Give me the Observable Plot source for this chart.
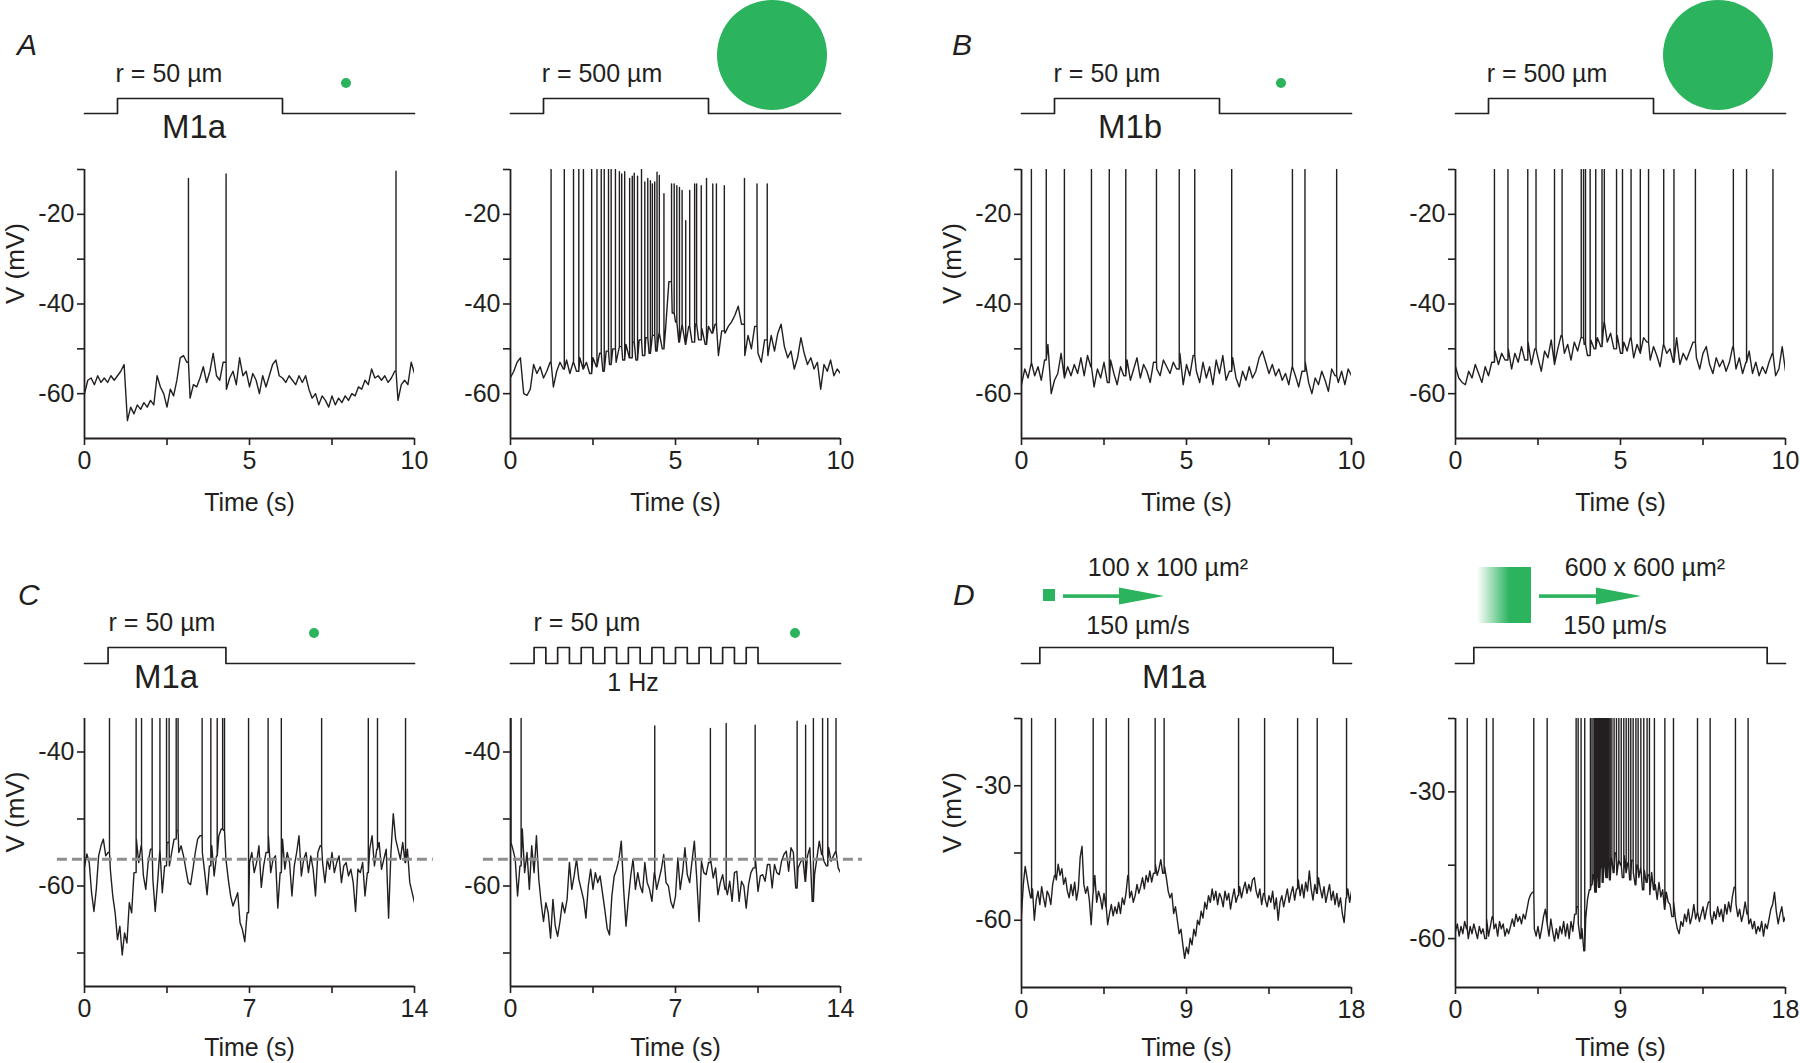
<!DOCTYPE html>
<html>
<head>
<meta charset="utf-8">
<script src="https://cdn.jsdelivr.net/npm/d3@7"></script>
<script src="https://cdn.jsdelivr.net/npm/@observablehq/plot@0.6"></script>
<style>
  html, body { margin: 0; padding: 0; background: #fff; }
  #fig { position: relative; width: 1800px; height: 1063px; overflow: hidden; background: #fff;
         font-family: "Liberation Sans", Arial, Helvetica, sans-serif; color: #231f20; }
  #fig > div { position: absolute; }
  #fig svg { display: block; }
</style>
</head>
<body>
<div id="fig"></div>
<script>
const DT = 0.1;

// Panel A, left: r = 50 µm, M1a
const A1_v = [
 -60,-57,-56.5,-58,-56,-57.5,-56.5,-57.5,-56,-57,
 -56,-55,-53.5,-66,-63,-64.5,-62.5,-63.5,-62,-63,
 -61.5,-62.5,-56,-58.5,-60,-63,-59,-60.5,-57,-52,
 -51.5,-53,-61,-58,-58.5,-56.5,-54,-57.5,-55,-51,
 -56,-57,-53,-59,-56.5,-55,-58,-52,-56,-55,
 -58.5,-55.5,-57,-60,-56,-58.5,-56,-53.5,-52.5,-56,
 -56.5,-57.5,-56,-57,-58,-56,-57.5,-56,-59,-61,
 -60,-62.5,-60.5,-61.5,-63,-60.5,-62.5,-61,-62,-60.5,
 -61.5,-60,-60.5,-58.5,-59,-57,-58,-54.5,-56.5,-56,
 -57,-56,-57.5,-56.5,-55,-61.5,-58,-57,-58,-53,
 -55.5];
const A1_spk = [3.15, 4.29, 9.44];
const A1_pk = [-12, -11, -10.4];

// Panel A, right: r = 500 µm
const A2_v = [
 -56.4,-55,-53,-52,-60,-60.4,-59,-53.5,-55.5,-54,
 -56.5,-55,-53,-58.5,-55,-53,-54.5,-52.5,-55.5,-53,
 -55,-52,-54.5,-53,-55.5,-52,-54,-51,-55,-50.5,
 -53.5,-50,-53,-49.5,-52.5,-49,-52,-48.5,-52.5,-48,
 -51.5,-47.5,-51,-47,-50.5,-46.5,-50,-45.5,-35,-42,
 -44,-48.5,-44.5,-49,-45,-48.5,-44.5,-48,-45.5,-49,
 -45,-46.5,-44.5,-51.5,-46,-46.5,-45,-44,-42.5,-40.5,
 -44.5,-51.5,-47,-50,-45,-51,-53,-48,-51.5,-47,
 -50.5,-46.5,-44.5,-49.5,-52,-50.5,-54.5,-52,-47.5,-51,
 -53.5,-52,-54.5,-53,-59,-53.5,-55,-52.5,-56,-54.5,
 -55.5];
const A2_spk = [1.23,1.63,1.91,2.07,2.21,2.46,2.62,2.75,2.84,2.97,3.05,3.18,3.30,3.37,3.46,3.61,3.69,3.75,3.85,3.97,
 4.07,4.16,4.24,4.30,4.37,4.44,4.51,4.65,4.88,4.96,5.04,5.12,5.20,5.31,5.43,5.58,5.64,5.78,5.94,6.13,6.24,6.48,7.09,7.47,7.78];
const A2_pk = [-10,-10,-10,-10,-10,-10,-10,-10,-10,-10,-10,-10,-10.5,-11,-10.5,-12,-11.5,-10.8,-11.5,-10,
 -12.8,-12,-12.5,-13.2,-12.8,-10.6,-11.3,-15.4,-13.2,-13.2,-13.6,-14,-14.7,-21.4,-14.7,-13.2,-13.2,-13.6,-12,-13.2,-13.2,-13.6,-12,-13.2,-13.2];

// Panel B, left: r = 50 µm, M1b
const B1_v = [
 -58,-54.5,-56.5,-53,-56,-54,-57,-52.5,-49,-60,
 -57,-55.5,-51,-56.5,-54,-56,-53.5,-55.5,-52,-56,
 -51.5,-54,-58.5,-54.5,-56.5,-53,-57.5,-52.5,-55.5,-58,
 -54,-56,-52.5,-57,-54.5,-52,-56.5,-53.5,-55,-57.5,
 -53,-54.5,-56,-52.5,-54,-55.5,-53,-54.5,-51,-58,
 -53.5,-56,-51.5,-55,-57.5,-53,-56.5,-54,-58,-52.5,
 -55.5,-51.5,-57,-55,-52,-56.5,-58.5,-55,-57,-54,
 -56.5,-55,-52,-50.5,-53,-55.5,-53.5,-56,-54.5,-57,
 -55.5,-58,-54,-56,-58.5,-55,-53,-57.5,-60,-56.5,
 -58,-55,-57,-59.5,-54.5,-56,-57.5,-55,-58,-54.5,
 -56];
const B1_spk = [0.30, 0.75, 1.30, 2.12, 2.66, 3.16, 4.09, 4.78, 5.25, 6.37, 8.21, 8.59, 9.55];

// Panel B, right: r = 500 µm
const B2_v = [
 -54,-56.5,-57.5,-58,-55,-56.5,-53.5,-55.5,-57.5,-54,
 -56,-53,-50.5,-53.5,-51,-52.5,-50,-54.5,-51,-53,
 -49.5,-52.5,-48.5,-53.5,-50,-52,-55,-50.5,-52,-48,
 -53.5,-50,-47,-51,-49,-52.5,-48.5,-50.5,-47.5,-49,
 -51.5,-48,-50,-47.5,-49.5,-44,-48.5,-46.5,-50,-47,
 -51,-48.5,-50.5,-47.5,-52,-49,-51,-47.5,-48.5,-52.5,
 -49.5,-51.5,-54,-49,-51,-50,-53,-47.5,-53.5,-51,
 -52.5,-50.5,-48.5,-52,-54.5,-51,-49.5,-53.5,-55.5,-52,
 -54,-52.5,-55,-53,-49.5,-54.5,-52,-55.5,-53,-50.5,
 -55.5,-53,-56,-54,-55.5,-53,-51,-56,-54.5,-49.5,
 -55];
const B2_spk = [1.18,1.59,2.19,2.44,3.0,3.23,3.81,3.88,3.94,4.08,4.25,4.44,4.51,4.88,5.06,5.32,5.60,5.85,6.31,6.62,7.27,8.42,8.82,9.62];

// Panel C, left: r = 50 µm, M1a (14 s)
const C1_v = [
 -57.2,-55.2,-56.5,-61,-63.8,-60.5,-55.5,-54,-53,-55.5,
 -55,-57.7,-61.5,-64,-68,-66,-70.3,-67,-68.5,-62.5,
 -64,-58,-53,-56.5,-54,-58.5,-60.5,-56.5,-54.5,-59,
 -63.8,-59.5,-54.5,-61,-57,-53.5,-57,-55,-53,-51.7,
 -55,-54,-55.5,-57.5,-59.5,-59.8,-57.5,-55,-53,-52.5,
 -55,-58,-61.3,-57,-54,-58.5,-55.5,-52.5,-51.5,-51.7,
 -56,-59,-61.5,-63,-62,-61,-65.5,-66.5,-68.3,-64,
 -56.5,-55,-58,-56.5,-54,-60.2,-57,-55,-52.5,-58,
 -56,-55.5,-63.3,-58,-53,-57.5,-55,-56.5,-61.5,-57,
 -55,-52.5,-58.5,-56,-55,-58,-55.5,-57.5,-61.5,-55,
 -54,-56.5,-59.5,-56,-57.5,-55,-58,-56.5,-55.5,-59.5,
 -57,-56.5,-58.5,-57.5,-59.5,-63.8,-57.5,-58,-56.5,-61.5,
 -58,-54.5,-52.5,-57,-54.5,-53.5,-57.5,-56,-54.5,-64.8,
 -55,-49.2,-53,-54.5,-56,-53.5,-56.5,-54.5,-59.5,-61,
 -62.5];
const C1_spk = [1.06,2.19,2.42,2.87,3.20,3.48,3.59,3.89,3.97,4.99,5.36,5.63,5.86,5.94,6.96,7.79,8.35,10.06,12.04,12.43,13.62];

// Panel C, right: r = 50 µm at 1 Hz (14 s)
const C2_v = [
 -53.5,-54.5,-56,-61.5,-57,-51.5,-58,-55,-60.5,-54,
 -58,-52.5,-59,-62.5,-65.3,-62.5,-64,-67.8,-62,-66,
 -67.5,-65.3,-62.5,-64,-62,-56.5,-60.5,-58.5,-56,-59,
 -60.5,-62,-64.8,-60,-57.5,-60.5,-58,-59.5,-58.5,-61,
 -63.5,-66.3,-67.3,-61.5,-58.5,-57.5,-56,-53.3,-60.5,-66,
 -62,-58.5,-56,-60.5,-58,-60,-61,-56.5,-59.5,-60.5,
 -62.3,-58,-60.5,-59,-57.5,-55.3,-59.5,-60,-62.3,-63.3,
 -61.5,-55.8,-60.5,-58,-54.3,-58.3,-59.5,-56.3,-53.3,-58.8,
 -65.3,-56.3,-58,-58.3,-56.5,-56.3,-58.8,-57.3,-61.3,-59.5,
 -58.3,-60.5,-61.3,-59.3,-62.3,-58,-57.8,-62.3,-59.3,-60,
 -63.3,-59.8,-58,-57.3,-56.3,-60.8,-58.5,-58.3,-59.3,-56.8,
 -56.8,-60.3,-56.8,-58,-58.3,-56.3,-55.3,-54.8,-57.8,-54.3,
 -55,-60.3,-57.3,-56.5,-55.8,-59.3,-55.5,-54.3,-62.3,-58.3,
 -55.8,-53.3,-55.3,-56.3,-57,-54.3,-56.3,-55.5,-54.8,-57.3,
 -58];
const C2_spk = [0.02,0.45,6.12,8.48,9.15,10.38,12.16,12.52,12.85,13.24,13.46,13.81];
const C2_pk = [-35,-35,-36.1,-36.5,-35.75,-36,-35.4,-36,-35,-35,-35,-35];

// spike threshold (dashed line) in panel C
const C_thresh = -56;
const C1_threshSpan = [-1.15, 14.8];
const C2_threshSpan = [-1.15, 14.93];

// Panel D, left: 100 x 100 µm² bar moving at 150 µm/s (18 s)
const D1_v = [
 -58.7,-52,-48,-50.5,-53,-55,-53,-60,-55.5,-53.5,
 -56.5,-52.5,-55,-57,-53.5,-54.5,-56.5,-52,-50,-51,
 -47.5,-50,-48.5,-52,-50.5,-53.5,-55,-52,-54.5,-51.5,
 -55.5,-53,-46,-43.5,-52,-54,-52.5,-55.5,-61,-54,
 -50,-56,-53.5,-55,-57.5,-54,-57,-61,-58.5,-56.5,
 -59,-57,-58.5,-56,-58.5,-55,-56.5,-54,-50,-55,
 -53.5,-56,-54.5,-52,-54,-52.5,-50.5,-53,-50,-51.5,
 -49,-51.5,-49.5,-47.5,-50,-48.5,-46.5,-49.5,-48,-50.5,
 -53.5,-55,-54,-58.5,-57,-60,-63,-62,-65.5,-68.5,
 -66,-67.5,-64,-65.5,-62,-63.5,-60,-61,-58,-59.5,
 -56,-57.5,-54.5,-56,-53,-55.5,-53.5,-56.5,-54,-55,
 -57,-53.5,-55.5,-54,-57.5,-55,-53,-56,-54.5,-52.5,
 -55,-53,-51.5,-54,-52,-53.5,-51,-50.5,-53.5,-55,
 -53,-56.5,-54,-55.5,-57,-54.5,-56,-53.5,-57.5,-55,
 -60,-56,-54.5,-57,-55,-53,-56,-54,-52.5,-55.5,
 -53,-51,-54.5,-52,-55,-51.5,-53.5,-49,-53,-55.5,
 -52,-54,-50.5,-53,-55,-52.5,-56,-54,-52,-55.5,
 -53.5,-56.5,-54,-57,-55,-58.5,-60.5,-55,-53,-56,
 -53.5];
const D1_spk = [0.55,1.85,3.91,4.62,5.84,7.29,7.78,11.84,13.26,15.06,16.13,17.73];

// Panel D, right: 600 x 600 µm² bar moving at 150 µm/s (18 s)
const D2_v = [
 -58.5,-57,-59.5,-57.5,-59,-56.5,-58,-60,-57.5,-59,
 -57,-58.5,-60,-57.5,-59,-58,-60,-56,-59.5,-57.5,
 -55.5,-58,-57,-59.5,-56.5,-58,-57,-59.5,-58,-59,
 -57.5,-56,-57.5,-55,-56.5,-55.5,-57,-55,-56,-54,
 -52,-51,-50.5,-58,-59.5,-57.5,-60,-58,-55.5,-54,
 -57,-59.5,-56,-58.5,-60.5,-58,-60,-57.5,-59,-56.5,
 -59.5,-57,-60,-56.5,-58.5,-55,-53.5,-57,-60,-58,
 -62.5,-56,-52,-50,-49,-47,-50.5,-46,-49.5,-45.5,
 -48.5,-45,-47.5,-44,-48,-43.5,-46.5,-42.5,-47,-44,
 -45,-47.5,-43,-46.5,-44.5,-48,-44,-46.5,-49,-45,
 -47.5,-45.5,-50,-46,-48.5,-47,-51,-46.5,-50,-49,
 -52,-48.5,-51.5,-50,-54,-50.5,-52.5,-53,-55.5,-52.5,
 -56,-58,-59,-56.5,-57.5,-55,-56.5,-54,-57,-55.5,
 -53,-56,-54.5,-56.5,-55,-53.5,-56,-54,-52.5,-55,
 -57,-54.5,-56,-53.5,-55.5,-54,-56.5,-53,-55,-52.5,
 -54.5,-51.5,-49.5,-53,-55.5,-54,-56.5,-55,-52.5,-55,
 -57,-56,-58,-56.5,-59,-57.5,-58.5,-56.5,-59.5,-57,
 -58,-56,-54,-53,-50.5,-54.5,-57,-55,-53.5,-56.5,
 -55.5];
const D2_spk = [0.64,1.69,2.05,4.27,5.0,6.58,6.69,6.85,7.05,7.36,7.45,7.55,7.62,7.68,7.75,7.81,7.87,7.93,7.99,8.05,
 8.11,8.17,8.23,8.29,8.36,8.44,8.53,8.65,8.78,8.91,9.04,9.18,9.31,9.44,9.56,9.69,9.84,9.96,10.11,10.27,
 10.45,10.58,10.85,11.42,11.89,13.2,13.89,15.27,15.96];

// stimulus time courses (0 = off, 1 = on)
const AB_stim_t = [0, 1, 1, 6, 6, 10];
const AB_stim_s = [0, 0, 1, 1, 0, 0];
const C1_stim_t = [0, 1, 1, 6, 6, 14];
const C1_stim_s = [0, 0, 1, 1, 0, 0];
const C2_pulse_on = [1, 2, 3, 4, 5, 6, 7, 8, 9, 10];
const C2_pulse_width = 0.5;
const C2_end = 14;
const D_stim_t = [0, 1, 1, 17, 17, 18];
const D_stim_s = [0, 0, 1, 1, 0, 0];

// axis ticks
const xTicks10 = [0, 5, 10], xMinor10 = [2.5, 7.5];
const xTicks14 = [0, 7, 14], xMinor14 = [3.5, 10.5];
const xTicks18 = [0, 9, 18], xMinor18 = [4.5, 13.5];
const yTicksAB = [-20, -40, -60], yMinorAB = [-10, -30, -50];
const yTicksC = [-40, -60], yMinorC = [-50, -70];
const yTicksD = [-30, -60], yMinorD = [-15, -45];

// ---------------- drawing ----------------
const FONT = '"Liberation Sans", Arial, Helvetica, sans-serif';
const INK = "#231f20";
const GREEN = "#2bb35e";
const fig = document.getElementById("fig");
const ML = 84, MR = 30, MT = 10, MB = 78, PW = 330;

function place(node, left, top, width) {
  const d = document.createElement("div");
  d.style.left = left + "px";
  d.style.top = top + "px";
  d.style.width = width + "px";
  d.appendChild(node);
  fig.appendChild(d);
}

function buildTrace(v, spk, pk, top) {
  const rows = v.map((y, i) => ({t: +(i * DT).toFixed(3), v: y, o: 0}));
  spk.forEach((ts, j) => {
    const i = Math.min(v.length - 1, Math.floor(ts / DT + 1e-9));
    const b = v[i];
    const p = pk ? pk[j] : top;
    rows.push({t: ts, v: b, o: 1}, {t: ts, v: p, o: 2}, {t: ts, v: b, o: 3});
  });
  rows.sort((a, b) => a.t - b.t || a.o - b.o);
  return rows;
}

const fmt = d => String(d);

function tracePanel(c) {
  const H = c.Y1 - c.Y0;
  const data = buildTrace(c.v, c.spk, c.pk, c.y[1]);
  const marks = [
    Plot.line(data, {x: "t", y: "v", stroke: INK, strokeWidth: 1.4, clip: true})
  ];
  if (c.thr) {
    marks.push(Plot.ruleY([{y: c.thr, x1: c.thrSpan[0], x2: c.thrSpan[1]}],
      {y: "y", x1: "x1", x2: "x2", stroke: "#8e8e8e", strokeWidth: 3, strokeDasharray: "10,5"}));
  }
  marks.push(
    Plot.ruleY([c.y[0]], {stroke: INK, strokeWidth: 1.8}),
    Plot.ruleX([c.x[0]], {stroke: INK, strokeWidth: 1.8}),
    Plot.axisX({ticks: c.xt, tickSize: 7, tickPadding: 6, fontSize: 25, tickFormat: fmt, label: null, stroke: INK, strokeWidth: 1.6}),
    Plot.axisX({ticks: c.xm, tickSize: 7, tickFormat: () => "", label: null, stroke: INK, strokeWidth: 1.6}),
    Plot.axisY({ticks: c.yt, tickSize: 7, tickPadding: 3, fontSize: 25, tickFormat: fmt, label: null, stroke: INK, strokeWidth: 1.6}),
    Plot.axisY({ticks: c.ym, tickSize: 7, tickFormat: () => "", label: null, stroke: INK, strokeWidth: 1.6}),
    Plot.text(["Time (s)"], {frameAnchor: "bottom", lineAnchor: "top", dy: c.labDy, fontSize: 25, fill: INK})
  );
  if (c.ylab) {
    marks.push(Plot.text(["V (mV)"], {frameAnchor: "left", rotate: -90, lineAnchor: "top", dx: -79, fontSize: 26, fill: INK}));
  }
  const W = ML + PW + MR;
  const svg = Plot.plot({
    width: W, height: H + MT + MB,
    marginLeft: ML, marginRight: MR, marginTop: MT, marginBottom: MB,
    x: {domain: c.x}, y: {domain: c.y},
    style: {background: "transparent", fontFamily: FONT, color: INK, overflow: "visible"},
    marks
  });
  place(svg, c.X0 - ML, c.Y0 - MT, W);
}

function stimPanel(c) {
  const h = c.yBase - c.yHigh;
  const data = c.t.map((tt, i) => ({t: tt, s: c.s[i]}));
  const W = ML + PW + MR;
  const svg = Plot.plot({
    width: W, height: h + 8,
    marginLeft: ML, marginRight: MR, marginTop: 4, marginBottom: 4,
    x: {domain: c.x, axis: null}, y: {domain: [0, 1], axis: null},
    style: {background: "transparent", overflow: "visible"},
    marks: [Plot.line(data, {x: "t", y: "s", stroke: INK, strokeWidth: 1.7})]
  });
  place(svg, c.X0 - ML, c.yHigh - 4, W);
}

// C2 pulse train table
const C2_stim_t = [0], C2_stim_s = [0];
C2_pulse_on.forEach(on => {
  C2_stim_t.push(on, on, on + C2_pulse_width, on + C2_pulse_width);
  C2_stim_s.push(0, 1, 1, 0);
});
C2_stim_t.push(C2_end); C2_stim_s.push(0);

// traces
tracePanel({v: A1_v, spk: A1_spk, pk: A1_pk, x: [0, 10], y: [-70, -10], xt: xTicks10, xm: xMinor10, yt: yTicksAB, ym: yMinorAB, X0: 84, Y0: 169, Y1: 438, ylab: true, labDy: 55});
tracePanel({v: A2_v, spk: A2_spk, pk: A2_pk, x: [0, 10], y: [-70, -10], xt: xTicks10, xm: xMinor10, yt: yTicksAB, ym: yMinorAB, X0: 510, Y0: 169, Y1: 438, ylab: false, labDy: 55});
tracePanel({v: B1_v, spk: B1_spk, x: [0, 10], y: [-70, -10], xt: xTicks10, xm: xMinor10, yt: yTicksAB, ym: yMinorAB, X0: 1021, Y0: 169, Y1: 438, ylab: true, labDy: 55});
tracePanel({v: B2_v, spk: B2_spk, x: [0, 10], y: [-70, -10], xt: xTicks10, xm: xMinor10, yt: yTicksAB, ym: yMinorAB, X0: 1455, Y0: 169, Y1: 438, ylab: false, labDy: 55});
tracePanel({v: C1_v, spk: C1_spk, x: [0, 14], y: [-75, -35], xt: xTicks14, xm: xMinor14, yt: yTicksC, ym: yMinorC, X0: 84, Y0: 718, Y1: 986, ylab: true, thr: C_thresh, thrSpan: C1_threshSpan, labDy: 52});
tracePanel({v: C2_v, spk: C2_spk, pk: C2_pk, x: [0, 14], y: [-75, -35], xt: xTicks14, xm: xMinor14, yt: yTicksC, ym: yMinorC, X0: 510, Y0: 718, Y1: 986, ylab: false, thr: C_thresh, thrSpan: C2_threshSpan, labDy: 52});
tracePanel({v: D1_v, spk: D1_spk, x: [0, 18], y: [-75, -15], xt: xTicks18, xm: xMinor18, yt: yTicksD, ym: yMinorD, X0: 1021, Y0: 718, Y1: 987, ylab: true, labDy: 51});
tracePanel({v: D2_v, spk: D2_spk, x: [0, 18], y: [-70, -15], xt: xTicks18, xm: xMinor18, yt: yTicksD, ym: yMinorD, X0: 1455, Y0: 718, Y1: 987, ylab: false, labDy: 51});

// stimuli
stimPanel({t: AB_stim_t, s: AB_stim_s, x: [0, 10], X0: 84, yHigh: 98, yBase: 113});
stimPanel({t: AB_stim_t, s: AB_stim_s, x: [0, 10], X0: 510, yHigh: 98, yBase: 113});
stimPanel({t: AB_stim_t, s: AB_stim_s, x: [0, 10], X0: 1021, yHigh: 98, yBase: 113});
stimPanel({t: AB_stim_t, s: AB_stim_s, x: [0, 10], X0: 1455, yHigh: 98, yBase: 113});
stimPanel({t: C1_stim_t, s: C1_stim_s, x: [0, 14], X0: 84, yHigh: 647, yBase: 663});
stimPanel({t: C2_stim_t, s: C2_stim_s, x: [0, 14], X0: 510, yHigh: 647, yBase: 663});
stimPanel({t: D_stim_t, s: D_stim_s, x: [0, 18], X0: 1021, yHigh: 647, yBase: 663});
stimPanel({t: D_stim_t, s: D_stim_s, x: [0, 18], X0: 1455, yHigh: 647, yBase: 663});

// ---------------- annotations overlay ----------------
const NS = "http://www.w3.org/2000/svg";
const ov = document.createElementNS(NS, "svg");
ov.setAttribute("width", 1800);
ov.setAttribute("height", 1063);
ov.style.fontFamily = FONT;
function el(tag, attrs, text) {
  const e = document.createElementNS(NS, tag);
  for (const k in attrs) e.setAttribute(k, attrs[k]);
  if (text != null) e.textContent = text;
  ov.appendChild(e);
  return e;
}
const defs = el("defs", {});
const grad = document.createElementNS(NS, "linearGradient");
grad.setAttribute("id", "fade");
grad.setAttribute("x1", "0"); grad.setAttribute("x2", "1"); grad.setAttribute("y1", "0"); grad.setAttribute("y2", "0");
[["0", "#ffffff"], ["0.6", GREEN], ["1", GREEN]].forEach(([o, c]) => {
  const s = document.createElementNS(NS, "stop");
  s.setAttribute("offset", o); s.setAttribute("stop-color", c);
  grad.appendChild(s);
});
defs.appendChild(grad);

// panel letters
[["A", 17, 55], ["B", 952, 55], ["C", 18, 605], ["D", 953, 605]].forEach(([t, x, y]) =>
  el("text", {x, y, "font-size": 30, "font-style": "italic", fill: INK}, t));

// stimulus labels
const labels = [
  ["r = 50 µm", 169, 82, 25], ["M1a", 194, 138, 33],
  ["r = 500 µm", 602, 82, 25],
  ["r = 50 µm", 1107, 82, 25], ["M1b", 1130, 138, 33],
  ["r = 500 µm", 1547, 82, 25],
  ["r = 50 µm", 162, 631, 25], ["M1a", 166, 688, 33],
  ["r = 50 µm", 587, 631, 25], ["1 Hz", 633, 691, 25],
  ["100 x 100 µm²", 1168, 576, 25], ["150 µm/s", 1138, 634, 25], ["M1a", 1174, 688, 33],
  ["600 x 600 µm²", 1645, 576, 25], ["150 µm/s", 1615, 634, 25]
];
labels.forEach(([t, x, y, s]) => el("text", {x, y, "font-size": s, "text-anchor": "middle", fill: INK}, t));

// spot icons
[[346, 83, 5], [1281, 83, 5], [314, 633, 5], [795, 633, 5], [772, 55, 55], [1718, 55, 55]].forEach(([cx, cy, r]) =>
  el("circle", {cx, cy, r, fill: GREEN}));

// moving bars
el("rect", {x: 1043, y: 589, width: 12, height: 12, fill: GREEN});
el("rect", {x: 1063, y: 594.3, width: 58, height: 3.6, fill: GREEN});
el("polygon", {points: "1119,587.5 1164,596 1119,604.5", fill: GREEN});
el("rect", {x: 1477, y: 567, width: 54, height: 56, fill: "url(#fade)"});
el("rect", {x: 1539, y: 594.3, width: 59, height: 3.6, fill: GREEN});
el("polygon", {points: "1596,587.5 1641,596 1596,604.5", fill: GREEN});

const ovWrap = document.createElement("div");
ovWrap.style.left = "0px"; ovWrap.style.top = "0px"; ovWrap.style.pointerEvents = "none";
ovWrap.appendChild(ov);
fig.appendChild(ovWrap);
</script>
</body>
</html>
